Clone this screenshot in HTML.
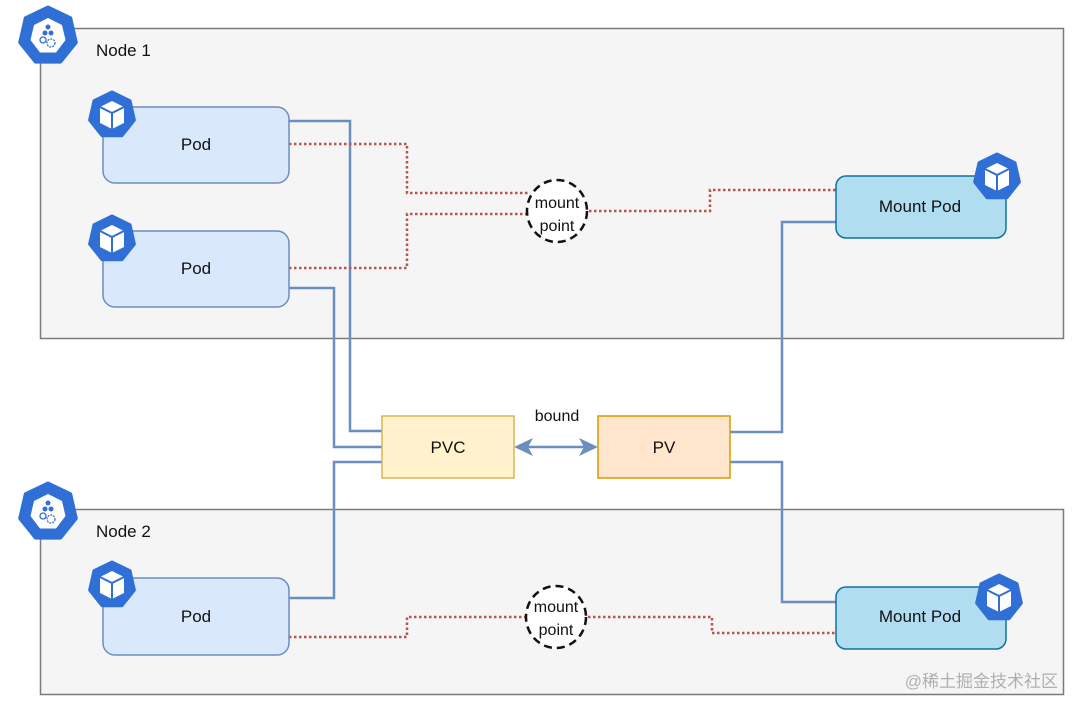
<!DOCTYPE html>
<html><head><meta charset="utf-8"><style>
html,body{margin:0;padding:0;background:#fff;}
svg{display:block;}
text{font-family:"Liberation Sans","Noto Sans CJK SC",sans-serif;}
</style></head><body>
<svg width="1080" height="711" viewBox="0 0 1080 711" xmlns="http://www.w3.org/2000/svg">
<defs>
<g id="podicon">
<polygon points="0,-23 18,-14.3 22.4,5.1 10,20.7 -10,20.7 -22.4,5.1 -18,-14.3" fill="#2f6fd6" stroke="#2f6fd6" stroke-width="3" stroke-linejoin="round"/>
<polygon points="0,-14 12,-8 12,8 0,14 -12,8 -12,-8" fill="#fff"/>
<polyline points="-12,-8 0,-2 12,-8" fill="none" stroke="#2f6fd6" stroke-width="2"/>
<line x1="0" y1="-2" x2="0" y2="14" stroke="#2f6fd6" stroke-width="2"/>
</g>
<g id="nodeicon">
<polygon points="0,-29 22.7,-18.1 28.3,6.5 12.6,26.1 -12.6,26.1 -28.3,6.5 -22.7,-18.1" fill="#2f6fd6" stroke="#2f6fd6" stroke-width="3" stroke-linejoin="round"/>
<polygon points="0,-18 14,-11 17.5,4 8,16.5 -8,16.5 -17.5,4 -14,-11" fill="#fff"/>
<circle cx="0" cy="-9" r="2.5" fill="#2f6fd6"/>
<circle cx="-3" cy="-3" r="2.5" fill="#2f6fd6"/>
<circle cx="3" cy="-3" r="2.5" fill="#2f6fd6"/>
<circle cx="-5" cy="4" r="3" fill="none" stroke="#2f6fd6" stroke-width="1.3"/>
<circle cx="3" cy="7" r="4" fill="none" stroke="#2f6fd6" stroke-width="1.3" stroke-dasharray="2 1"/>
</g>
</defs>
<rect x="0" y="0" width="1080" height="711" fill="#fff"/>
<rect x="40.5" y="28.5" width="1023" height="310" fill="#f5f5f5" stroke="#7a7a7a" stroke-width="1.5"/>
<rect x="40.5" y="509.5" width="1023" height="185" fill="#f5f5f5" stroke="#7a7a7a" stroke-width="1.5"/>
<text x="96" y="56" font-size="17" fill="#111">Node 1</text>
<text x="96" y="537" font-size="17" fill="#111">Node 2</text>
<g fill="none" stroke="#6c8ebf" stroke-width="2.5">
<polyline points="289,121 350,121 350,431 382,431"/>
<polyline points="289,288 334,288 334,447 382,447"/>
<polyline points="382,462 334,462 334,598 289,598"/>
<polyline points="730,432 782,432 782,222 836,222"/>
<polyline points="730,462 782,462 782,602 836,602"/>
<line x1="528" y1="447" x2="584" y2="447"/>
</g>
<polygon points="514,447 533,438 528,447 533,456" fill="#6c8ebf"/>
<polygon points="598,447 579,438 584,447 579,456" fill="#6c8ebf"/>
<text x="557" y="421" font-size="16" text-anchor="middle" fill="#111">bound</text>
<g fill="none" stroke="#b85450" stroke-width="2.5" stroke-dasharray="2.5 2.5">
<polyline points="289,144 407,144 407,193 528,193"/>
<polyline points="289,268 407,268 407,214 527,214"/>
<polyline points="589,211 710,211 710,190 836,190"/>
<polyline points="289,637 407,637 407,617 526,617"/>
<polyline points="588,617 712,617 712,633 836,633"/>
</g>
<ellipse cx="557" cy="211" rx="30" ry="31" fill="#fff" stroke="#111" stroke-width="2.5" stroke-dasharray="8 5"/>
<text x="557" y="208" font-size="16" text-anchor="middle" fill="#111">mount</text>
<text x="557" y="231" font-size="16" text-anchor="middle" fill="#111">point</text>
<ellipse cx="556" cy="617" rx="30" ry="31" fill="#fff" stroke="#111" stroke-width="2.5" stroke-dasharray="8 5"/>
<text x="556" y="612" font-size="16" text-anchor="middle" fill="#111">mount</text>
<text x="556" y="635" font-size="16" text-anchor="middle" fill="#111">point</text>
<g fill="#dae8fc" stroke="#6c8ebf" stroke-width="1.5">
<rect x="103" y="107" width="186" height="76" rx="12"/>
<rect x="103" y="231" width="186" height="76" rx="12"/>
<rect x="103" y="578" width="186" height="77" rx="12"/>
</g>
<g fill="#b1ddf0" stroke="#10739e" stroke-width="1.5">
<rect x="836" y="176" width="170" height="62" rx="10"/>
<rect x="836" y="587" width="170" height="62" rx="10"/>
</g>
<text x="196" y="150" font-size="17" text-anchor="middle" fill="#111">Pod</text>
<text x="196" y="274" font-size="17" text-anchor="middle" fill="#111">Pod</text>
<text x="196" y="622" font-size="17" text-anchor="middle" fill="#111">Pod</text>
<text x="920" y="212" font-size="17" text-anchor="middle" fill="#111">Mount Pod</text>
<text x="920" y="622" font-size="17" text-anchor="middle" fill="#111">Mount Pod</text>
<rect x="382" y="416" width="132" height="62" fill="#fff2cc" stroke="#d6b656" stroke-width="1.5"/>
<rect x="598" y="416" width="132" height="62" fill="#ffe6cc" stroke="#d79b00" stroke-width="1.5"/>
<text x="448" y="453" font-size="17" text-anchor="middle" fill="#111">PVC</text>
<text x="664" y="453" font-size="17" text-anchor="middle" fill="#111">PV</text>
<use href="#nodeicon" x="48" y="36"/>
<use href="#nodeicon" x="48" y="512"/>
<use href="#podicon" x="112" y="115"/>
<use href="#podicon" x="112" y="239"/>
<use href="#podicon" x="112" y="585"/>
<use href="#podicon" x="997" y="177"/>
<use href="#podicon" x="999" y="598"/>
<text x="1058" y="687" font-size="17" text-anchor="end" fill="#b0b0b0">@稀土掘金技术社区</text>
</svg>
</body></html>
